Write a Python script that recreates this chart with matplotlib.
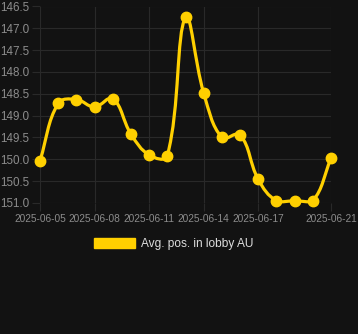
import numpy as np
import matplotlib
matplotlib.use("Agg")
import matplotlib.pyplot as plt
import matplotlib.dates as mdates
from matplotlib.path import Path
from matplotlib.patches import PathPatch, Patch
from datetime import datetime

# data
days = ["2025-06-05", "2025-06-06", "2025-06-07", "2025-06-08", "2025-06-09",
        "2025-06-10", "2025-06-11", "2025-06-12", "2025-06-13", "2025-06-14",
        "2025-06-15", "2025-06-16", "2025-06-17", "2025-06-18", "2025-06-19",
        "2025-06-20", "2025-06-21"]
avg_pos = [150.03, 148.72, 148.63, 148.8, 148.61, 149.42, 149.9, 149.92, 146.75,
           148.48, 149.5, 149.44, 150.46, 150.95, 150.95, 150.95, 149.98]
tick_days = ["2025-06-05", "2025-06-08", "2025-06-11", "2025-06-14",
             "2025-06-17", "2025-06-21"]
y_ticks = [146.5, 147.0, 147.5, 148.0, 148.5, 149.0, 149.5, 150.0, 150.5, 151.0]
series_name = "Avg. pos. in lobby AU"

BG = "#121212"
GRID = "#292929"
LINE = "#FFD000"
TXT = "#8c8c8c"

plt.rcParams['font.family'] = ['Liberation Sans', 'DejaVu Sans']

fig = plt.figure(figsize=(3.58, 3.34), dpi=100, facecolor=BG)
ax = fig.add_axes([40 / 358, 1 - 203 / 334, 291 / 358, 196.5 / 334])
ax.set_facecolor(BG)

x = mdates.date2num([datetime.strptime(d, "%Y-%m-%d") for d in days])
y = np.array(avg_pos)

ax.set_xlim(x[0], x[-1])
ax.set_ylim(151.0, 146.5)

# chart.js style bezier (tension 0.4), computed in pixel space
pts = ax.transData.transform(np.column_stack([x, y]))
t = 0.4
n = len(pts)
cp_in = pts.copy()
cp_out = pts.copy()
for i in range(n):
    prev = pts[max(i - 1, 0)]
    cur = pts[i]
    nxt = pts[min(i + 1, n - 1)]
    d01 = np.hypot(*(cur - prev))
    d12 = np.hypot(*(nxt - cur))
    tot = d01 + d12
    if tot == 0:
        continue
    fa = t * d01 / tot
    fb = t * d12 / tot
    cp_in[i] = cur - fa * (nxt - prev)
    cp_out[i] = cur + fb * (nxt - prev)
# keep control points inside chart area
bb = ax.bbox
for cp in (cp_in, cp_out):
    cp[:, 0] = np.clip(cp[:, 0], bb.x0, bb.x1)
    cp[:, 1] = np.clip(cp[:, 1], bb.y0, bb.y1)

verts = [pts[0]]
codes = [Path.MOVETO]
for i in range(n - 1):
    verts += [cp_out[i], cp_in[i + 1], pts[i + 1]]
    codes += [Path.CURVE4] * 3
verts = ax.transData.inverted().transform(np.array(verts))
ax.add_patch(PathPatch(Path(verts, codes), fill=False, edgecolor=LINE,
                       lw=2.3, capstyle='round', joinstyle='round',
                       clip_on=False, zorder=3))
ax.plot(x, y, 'o', color=LINE, ms=7.5, clip_on=False, zorder=4)

ax.set_yticks(y_ticks)
ax.set_yticklabels([f"{v:.1f}" for v in y_ticks])
ax.set_xticks(mdates.date2num([datetime.strptime(d, "%Y-%m-%d") for d in tick_days]))
ax.set_xticklabels(tick_days)
ax.grid(True, color=GRID, lw=0.8)
ax.tick_params(colors=GRID, labelcolor=TXT, length=6, width=0.8, pad=2)
ax.tick_params(axis='x', labelsize=7.3)
ax.tick_params(axis='y', labelsize=8.4, pad=1.5)
for s in ax.spines.values():
    s.set_visible(False)

fig.legend(handles=[Patch(facecolor=LINE, edgecolor=LINE, label=series_name)],
           loc='center', bbox_to_anchor=(174 / 358, 1 - 244 / 334),
           frameon=False, fontsize=8.6, labelcolor="#dddddd",
           handlelength=3.4, handleheight=1.0, handletextpad=0.55)

fig.savefig("out.png", dpi=100, facecolor=BG)
